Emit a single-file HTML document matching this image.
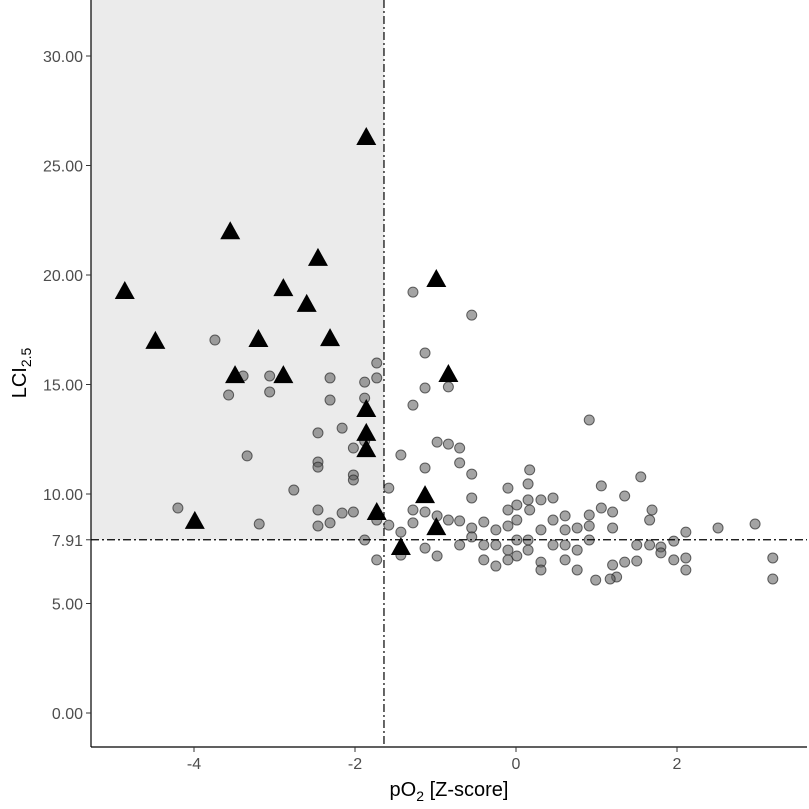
<!DOCTYPE html>
<html><head><meta charset="utf-8"><style>
body{margin:0;background:#fff}
svg text{font-family:"Liberation Sans",sans-serif}
</style></head><body>
<svg id="chart" width="809" height="804"></svg>
<script>
const triX=[-4.86,-4.48,-3.99,-3.55,-3.49,-3.2,-2.89,-2.89,-2.6,-2.46,-2.31,-1.86,-1.86,-1.86,-1.86,-1.73,-1.43,-1.13,-0.99,-0.99,-0.84];
const triY=[19.27,16.99,8.77,22.0,15.43,17.08,15.43,19.4,18.68,20.78,17.12,26.3,13.88,12.79,12.05,9.18,7.58,9.95,8.49,19.82,15.48];
const cirX=[-3.74,-4.20,-3.57,-3.39,-3.34,-3.19,-3.06,-3.06,-2.76,-2.46,-2.46,-2.46,-2.46,-2.46,-2.31,-2.31,-2.31,-2.16,-2.16,-2.02,-2.02,-2.02,-2.02,-1.88,-1.88,-1.88,-1.88,-1.73,-1.73,-1.73,-1.73,-1.58,-1.58,-1.43,-1.43,-1.43,-1.28,-1.28,-1.28,-1.28,-1.13,-1.13,-1.13,-1.13,-1.13,-0.98,-0.98,-0.98,-0.84,-0.84,-0.84,-0.70,-0.70,-0.70,-0.70,-0.55,-0.55,-0.55,-0.55,-0.55,-0.40,-0.40,-0.40,-0.25,-0.25,-0.25,-0.10,-0.10,-0.10,-0.10,-0.10,0.01,0.01,0.01,0.01,0.15,0.15,0.15,0.15,0.17,0.17,0.31,0.31,0.31,0.31,0.46,0.46,0.46,0.61,0.61,0.61,0.61,0.76,0.76,0.76,0.91,0.91,0.91,0.91,1.06,1.06,1.20,1.20,1.20,1.35,1.35,1.50,1.50,1.66,1.66,1.80,1.80,1.96,1.96,2.11,2.11,2.11,1.25,1.17,1.55,1.69,2.51,2.97,3.19,3.19,0.99];
const cirY=[17.03,9.36,14.52,15.39,11.74,8.63,15.39,14.66,10.18,12.79,11.46,11.23,9.27,8.54,15.30,14.29,8.68,13.01,9.13,12.10,10.87,10.64,9.18,12.42,15.11,14.38,7.90,15.98,15.30,8.81,6.99,10.27,8.58,8.26,11.78,7.21,19.22,14.06,9.27,8.68,16.44,14.84,11.19,9.18,7.53,12.37,9.0,7.17,12.28,14.89,8.81,12.10,11.42,8.77,7.67,8.45,9.82,8.04,10.91,18.17,8.72,7.67,6.99,8.36,7.67,6.71,10.27,9.27,8.54,7.44,6.99,7.90,8.81,9.50,7.17,10.46,9.73,7.90,7.44,11.10,9.27,9.73,8.36,6.89,6.53,8.81,7.67,9.82,8.36,7.67,6.99,9.0,7.44,6.53,8.45,8.54,7.90,9.04,13.38,10.37,9.36,9.18,8.45,6.76,9.91,6.89,7.67,6.94,8.81,7.67,7.58,7.31,7.85,6.99,8.26,7.08,6.53,6.21,6.12,10.78,9.27,8.45,8.63,7.08,6.12,6.07];
const xTicks=[-4,-2,0,2];
const xTickLabels=["-4","-2","0","2"];
const yTicks=[0,5,7.91,10,15,20,25,30];
const yTickLabels=["0.00","5.00","7.91","10.00","15.00","20.00","25.00","30.00"];
const xCut=-1.64, yCut=7.91;

const NS="http://www.w3.org/2000/svg";
const svg=document.getElementById('chart');
const L=91,R=807,T=0,B=747;
const sx=v=>516+v*80.5;
const sy=v=>713-v*21.9;
function mk(tag,attrs,parent){const e=document.createElementNS(NS,tag);for(const k in attrs)e.setAttribute(k,attrs[k]);(parent||svg).appendChild(e);return e;}

const shade=mk('rect',{x:L,y:T,width:sx(xCut)-L,height:sy(yCut)-T,fill:'#ebebeb'});



for(let i=0;i<cirX.length;i++){
  const c=mk('circle',{cx:sx(cirX[i]),cy:sy(cirY[i]),r:5,fill:'rgba(90,90,90,0.55)',stroke:'rgba(40,40,40,0.7)','stroke-width':1});
  
  
}
for(let i=0;i<triX.length;i++){
  const x=sx(triX[i]),y=sy(triY[i]);
  const t=mk('polygon',{points:`${x},${y-10} ${x-10},${y+8} ${x+10},${y+8}`,fill:'#000'});
  
  
}
const vl=mk('line',{x1:sx(xCut),x2:sx(xCut),y1:T,y2:B,stroke:'#000','stroke-width':1.2,'stroke-dasharray':'8 3 2 3'});


const hl=mk('line',{x1:L,x2:R,y1:sy(yCut),y2:sy(yCut),stroke:'#000','stroke-width':1.2,'stroke-dasharray':'8 3 2 3'});



const ya=mk('line',{x1:L,x2:L,y1:T,y2:B,stroke:'#000','stroke-width':1.2});


const xa=mk('line',{x1:L,x2:R,y1:B,y2:B,stroke:'#000','stroke-width':1.2});



xTicks.forEach((v,i)=>{
  const tk=mk('line',{x1:sx(v),x2:sx(v),y1:B,y2:B+5,stroke:'#333'});
  
  
  const tx=mk('text',{x:sx(v),y:B+22,'text-anchor':'middle','font-size':16,fill:'#4d4d4d'});
  tx.textContent=xTickLabels[i];
  
  
});
yTicks.forEach((v,i)=>{
  const tk=mk('line',{x1:L-5,x2:L,y1:sy(v),y2:sy(v),stroke:'#333'});
  
  
  const tx=mk('text',{x:L-8,y:sy(v)+6,'text-anchor':'end','font-size':16,fill:'#4d4d4d'});
  tx.textContent=yTickLabels[i];
  
  
});
const xt=mk('text',{x:449,y:796,'text-anchor':'middle','font-size':20,fill:'#000'});
xt.innerHTML='pO<tspan font-size="14" dy="5">2</tspan><tspan dy="-5"> [Z-score]</tspan>';


const yt=mk('text',{x:0,y:0,'text-anchor':'middle','font-size':20,fill:'#000',transform:'translate(26,373) rotate(-90)'});
yt.innerHTML='LCI<tspan font-size="14" dy="5">2.5</tspan>';


</script>
</body></html>
